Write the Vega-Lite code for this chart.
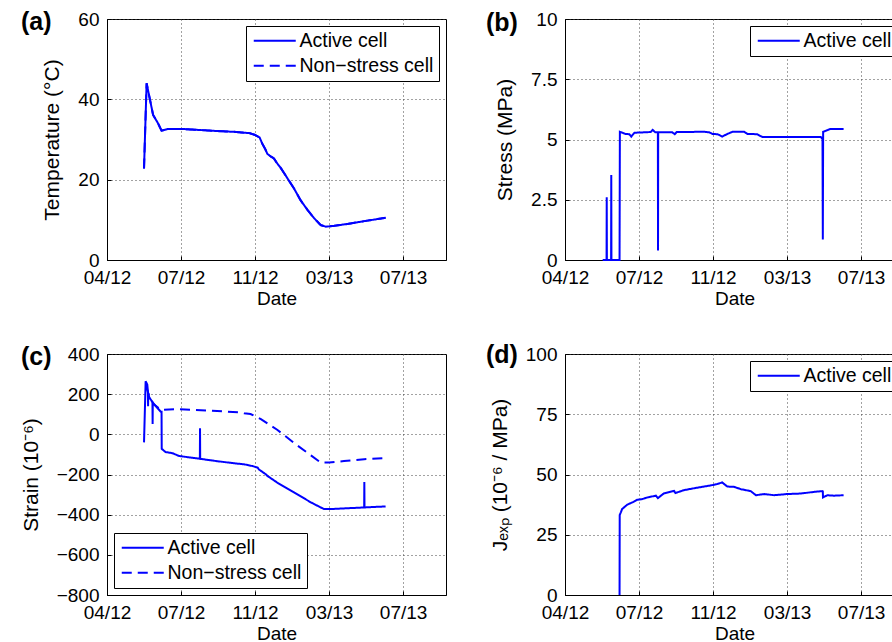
{
  "$schema": "https://vega.github.io/schema/vega-lite/v6.json",
  "padding": {"left": 19, "top": 9, "right": 0, "bottom": 0},
  "columns": 2,
  "spacing": {"row": 94, "column": 119},
  "bounds": "flush",
  "resolve": {"scale": {"strokeDash": "independent"}, "legend": {"strokeDash": "independent"}},
  "config": {
    "font": "Liberation Sans",
    "view": {"stroke": "black", "strokeWidth": 1},
    "axis": {
      "domainColor": "black", "domainWidth": 1,
      "labelColor": "black", "labelFontSize": 19, "labelPadding": 12,
      "labelFlush": false, "labelOverlap": false,
      "titleColor": "black", "titleFontSize": 19, "titleFontWeight": "normal",
      "ticks": true, "tickSize": -4, "tickColor": "black", "tickWidth": 1,
      "grid": true, "gridColor": "#444444", "gridDash": [1, 3], "gridWidth": 1, "gridOpacity": 1
    },
    "axisX": {"titlePadding": 2},
    "axisY": {"titlePadding": 15, "titleFontSize": 21},
    "legend": {
      "strokeColor": "black", "fillColor": "white", "padding": 5, "cornerRadius": 0,
      "labelFontSize": 19.5, "labelColor": "black", "labelLimit": 300,
      "symbolType": "M-3.5,0H3.5", "symbolSize": 144, "symbolStrokeWidth": 2,
      "symbolStrokeColor": "#0000ff", "symbolOffset": 14, "labelOffset": 15, "rowPadding": 4,
      "offset": 7
    },
    "title": {"fontSize": 25, "fontWeight": "bold", "color": "black", "anchor": "start", "frame": "group", "baseline": "middle", "offset": 0}
  },
  "datasets": {
    "temp": [
      {"date": "2012/05/28", "series": "Active cell", "value": 22.8},
      {"date": "2012/06/01", "series": "Active cell", "value": 44.0},
      {"date": "2012/06/11", "series": "Active cell", "value": 36.1},
      {"date": "2012/06/18", "series": "Active cell", "value": 34.2},
      {"date": "2012/06/24", "series": "Active cell", "value": 32.2},
      {"date": "2012/07/03", "series": "Active cell", "value": 32.6},
      {"date": "2012/07/29", "series": "Active cell", "value": 32.6},
      {"date": "2012/09/18", "series": "Active cell", "value": 32.1},
      {"date": "2012/10/14", "series": "Active cell", "value": 31.9},
      {"date": "2012/10/29", "series": "Active cell", "value": 31.7},
      {"date": "2012/11/06", "series": "Active cell", "value": 31.6},
      {"date": "2012/11/14", "series": "Active cell", "value": 31.2},
      {"date": "2012/11/22", "series": "Active cell", "value": 30.5},
      {"date": "2012/11/26", "series": "Active cell", "value": 29.0},
      {"date": "2012/12/01", "series": "Active cell", "value": 27.5},
      {"date": "2012/12/04", "series": "Active cell", "value": 26.4},
      {"date": "2012/12/09", "series": "Active cell", "value": 25.8},
      {"date": "2012/12/14", "series": "Active cell", "value": 25.3},
      {"date": "2012/12/18", "series": "Active cell", "value": 24.3},
      {"date": "2012/12/25", "series": "Active cell", "value": 22.8},
      {"date": "2013/01/04", "series": "Active cell", "value": 20.3},
      {"date": "2013/01/14", "series": "Active cell", "value": 17.8},
      {"date": "2013/01/24", "series": "Active cell", "value": 14.9},
      {"date": "2013/02/04", "series": "Active cell", "value": 12.4},
      {"date": "2013/02/14", "series": "Active cell", "value": 10.4},
      {"date": "2013/02/24", "series": "Active cell", "value": 8.7},
      {"date": "2013/03/04", "series": "Active cell", "value": 8.3},
      {"date": "2013/03/17", "series": "Active cell", "value": 8.5},
      {"date": "2013/04/11", "series": "Active cell", "value": 9.1},
      {"date": "2013/05/07", "series": "Active cell", "value": 9.8},
      {"date": "2013/06/04", "series": "Active cell", "value": 10.5},
      {"date": "2012/05/28", "series": "Non−stress cell", "value": 22.8},
      {"date": "2012/06/01", "series": "Non−stress cell", "value": 44.0},
      {"date": "2012/06/11", "series": "Non−stress cell", "value": 36.1},
      {"date": "2012/06/18", "series": "Non−stress cell", "value": 34.2},
      {"date": "2012/06/24", "series": "Non−stress cell", "value": 32.2},
      {"date": "2012/07/03", "series": "Non−stress cell", "value": 32.6},
      {"date": "2012/07/29", "series": "Non−stress cell", "value": 32.6},
      {"date": "2012/09/18", "series": "Non−stress cell", "value": 32.1},
      {"date": "2012/10/14", "series": "Non−stress cell", "value": 31.9},
      {"date": "2012/10/29", "series": "Non−stress cell", "value": 31.7},
      {"date": "2012/11/06", "series": "Non−stress cell", "value": 31.6},
      {"date": "2012/11/14", "series": "Non−stress cell", "value": 31.2},
      {"date": "2012/11/22", "series": "Non−stress cell", "value": 30.5},
      {"date": "2012/11/26", "series": "Non−stress cell", "value": 29.0},
      {"date": "2012/12/01", "series": "Non−stress cell", "value": 27.5},
      {"date": "2012/12/04", "series": "Non−stress cell", "value": 26.4},
      {"date": "2012/12/09", "series": "Non−stress cell", "value": 25.8},
      {"date": "2012/12/14", "series": "Non−stress cell", "value": 25.3},
      {"date": "2012/12/18", "series": "Non−stress cell", "value": 24.3},
      {"date": "2012/12/25", "series": "Non−stress cell", "value": 22.8},
      {"date": "2013/01/04", "series": "Non−stress cell", "value": 20.3},
      {"date": "2013/01/14", "series": "Non−stress cell", "value": 17.8},
      {"date": "2013/01/24", "series": "Non−stress cell", "value": 14.9},
      {"date": "2013/02/04", "series": "Non−stress cell", "value": 12.4},
      {"date": "2013/02/14", "series": "Non−stress cell", "value": 10.4},
      {"date": "2013/02/24", "series": "Non−stress cell", "value": 8.7},
      {"date": "2013/03/04", "series": "Non−stress cell", "value": 8.3},
      {"date": "2013/03/17", "series": "Non−stress cell", "value": 8.5},
      {"date": "2013/04/11", "series": "Non−stress cell", "value": 9.1},
      {"date": "2013/05/07", "series": "Non−stress cell", "value": 9.8},
      {"date": "2013/06/04", "series": "Non−stress cell", "value": 10.5}
    ],
    "stress": [
      {"date": "2012/05/29 00:00", "series": "Active cell", "value": 0},
      {"date": "2012/06/04 00:00", "series": "Active cell", "value": 0},
      {"date": "2012/06/04 06:00", "series": "Active cell", "value": 2.6},
      {"date": "2012/06/04 12:00", "series": "Active cell", "value": 0},
      {"date": "2012/06/11 00:00", "series": "Active cell", "value": 0},
      {"date": "2012/06/11 06:00", "series": "Active cell", "value": 3.53},
      {"date": "2012/06/11 12:00", "series": "Active cell", "value": 0},
      {"date": "2012/06/24 00:00", "series": "Active cell", "value": 0},
      {"date": "2012/06/24 12:00", "series": "Active cell", "value": 5.32},
      {"date": "2012/07/03 00:00", "series": "Active cell", "value": 5.23},
      {"date": "2012/07/09 00:00", "series": "Active cell", "value": 5.22},
      {"date": "2012/07/12 00:00", "series": "Active cell", "value": 5.12},
      {"date": "2012/07/17 00:00", "series": "Active cell", "value": 5.28},
      {"date": "2012/08/11 00:00", "series": "Active cell", "value": 5.31},
      {"date": "2012/08/14 00:00", "series": "Active cell", "value": 5.40},
      {"date": "2012/08/18 00:00", "series": "Active cell", "value": 5.30},
      {"date": "2012/08/22 00:00", "series": "Active cell", "value": 5.30},
      {"date": "2012/08/22 06:00", "series": "Active cell", "value": 0.39},
      {"date": "2012/08/22 12:00", "series": "Active cell", "value": 5.30},
      {"date": "2012/09/13 00:00", "series": "Active cell", "value": 5.30},
      {"date": "2012/09/17 00:00", "series": "Active cell", "value": 5.22},
      {"date": "2012/09/20 00:00", "series": "Active cell", "value": 5.31},
      {"date": "2012/11/01 00:00", "series": "Active cell", "value": 5.32},
      {"date": "2012/11/09 00:00", "series": "Active cell", "value": 5.30},
      {"date": "2012/11/14 00:00", "series": "Active cell", "value": 5.23},
      {"date": "2012/11/22 00:00", "series": "Active cell", "value": 5.22},
      {"date": "2012/11/29 00:00", "series": "Active cell", "value": 5.12},
      {"date": "2012/12/07 00:00", "series": "Active cell", "value": 5.23},
      {"date": "2012/12/15 00:00", "series": "Active cell", "value": 5.32},
      {"date": "2013/01/02 00:00", "series": "Active cell", "value": 5.32},
      {"date": "2013/01/07 00:00", "series": "Active cell", "value": 5.23},
      {"date": "2013/01/22 00:00", "series": "Active cell", "value": 5.22},
      {"date": "2013/01/30 00:00", "series": "Active cell", "value": 5.10},
      {"date": "2013/04/30 00:00", "series": "Active cell", "value": 5.10},
      {"date": "2013/05/02 12:00", "series": "Active cell", "value": 5.02},
      {"date": "2013/05/03 00:00", "series": "Active cell", "value": 0.85},
      {"date": "2013/05/03 12:00", "series": "Active cell", "value": 5.32},
      {"date": "2013/05/15 00:00", "series": "Active cell", "value": 5.44},
      {"date": "2013/06/04 00:00", "series": "Active cell", "value": 5.44}
    ],
    "strain": [
      {"date": "2012/05/28 00:00", "series": "Active cell", "value": -40},
      {"date": "2012/05/30 12:00", "series": "Active cell", "value": 264},
      {"date": "2012/06/02 00:00", "series": "Active cell", "value": 248},
      {"date": "2012/06/03 00:00", "series": "Active cell", "value": 215},
      {"date": "2012/06/03 06:00", "series": "Active cell", "value": 140},
      {"date": "2012/06/03 12:00", "series": "Active cell", "value": 205},
      {"date": "2012/06/05 00:00", "series": "Active cell", "value": 185},
      {"date": "2012/06/10 00:00", "series": "Active cell", "value": 160},
      {"date": "2012/06/10 06:00", "series": "Active cell", "value": 52},
      {"date": "2012/06/10 12:00", "series": "Active cell", "value": 157},
      {"date": "2012/06/23 00:00", "series": "Active cell", "value": 112},
      {"date": "2012/06/24 00:00", "series": "Active cell", "value": 112},
      {"date": "2012/06/24 06:00", "series": "Active cell", "value": -72},
      {"date": "2012/06/30 00:00", "series": "Active cell", "value": -88},
      {"date": "2012/07/11 00:00", "series": "Active cell", "value": -94},
      {"date": "2012/07/21 00:00", "series": "Active cell", "value": -108},
      {"date": "2012/08/21 00:00", "series": "Active cell", "value": -121},
      {"date": "2012/08/22 00:00", "series": "Active cell", "value": -121},
      {"date": "2012/08/22 06:00", "series": "Active cell", "value": 30},
      {"date": "2012/08/22 12:00", "series": "Active cell", "value": -122},
      {"date": "2012/09/16 00:00", "series": "Active cell", "value": -133},
      {"date": "2012/10/16 00:00", "series": "Active cell", "value": -145},
      {"date": "2012/10/29 00:00", "series": "Active cell", "value": -149},
      {"date": "2012/11/11 00:00", "series": "Active cell", "value": -158},
      {"date": "2012/11/19 00:00", "series": "Active cell", "value": -166},
      {"date": "2012/11/21 00:00", "series": "Active cell", "value": -175},
      {"date": "2012/12/02 00:00", "series": "Active cell", "value": -200},
      {"date": "2012/12/04 00:00", "series": "Active cell", "value": -207},
      {"date": "2012/12/19 00:00", "series": "Active cell", "value": -240},
      {"date": "2013/01/14 00:00", "series": "Active cell", "value": -289},
      {"date": "2013/02/09 00:00", "series": "Active cell", "value": -339},
      {"date": "2013/03/01 00:00", "series": "Active cell", "value": -372},
      {"date": "2013/03/12 00:00", "series": "Active cell", "value": -372},
      {"date": "2013/05/02 00:00", "series": "Active cell", "value": -364},
      {"date": "2013/05/02 06:00", "series": "Active cell", "value": -237},
      {"date": "2013/05/02 12:00", "series": "Active cell", "value": -364},
      {"date": "2013/06/04 00:00", "series": "Active cell", "value": -359},
      {"date": "2012/05/31 00:00", "series": "Non−stress cell", "value": 240},
      {"date": "2012/06/05 00:00", "series": "Non−stress cell", "value": 190},
      {"date": "2012/06/12 00:00", "series": "Non−stress cell", "value": 150},
      {"date": "2012/06/23 00:00", "series": "Non−stress cell", "value": 122},
      {"date": "2012/06/28 00:00", "series": "Non−stress cell", "value": 123},
      {"date": "2012/07/21 00:00", "series": "Non−stress cell", "value": 125},
      {"date": "2012/09/10 00:00", "series": "Non−stress cell", "value": 117},
      {"date": "2012/10/21 00:00", "series": "Non−stress cell", "value": 110},
      {"date": "2012/10/29 00:00", "series": "Non−stress cell", "value": 105},
      {"date": "2012/11/08 00:00", "series": "Non−stress cell", "value": 101},
      {"date": "2012/11/24 00:00", "series": "Non−stress cell", "value": 76},
      {"date": "2012/12/19 00:00", "series": "Non−stress cell", "value": 23},
      {"date": "2013/01/14 00:00", "series": "Non−stress cell", "value": -43},
      {"date": "2013/02/09 00:00", "series": "Non−stress cell", "value": -105},
      {"date": "2013/02/24 00:00", "series": "Non−stress cell", "value": -140},
      {"date": "2013/03/09 00:00", "series": "Non−stress cell", "value": -140},
      {"date": "2013/04/01 00:00", "series": "Non−stress cell", "value": -133},
      {"date": "2013/05/02 00:00", "series": "Non−stress cell", "value": -124},
      {"date": "2013/06/04 00:00", "series": "Non−stress cell", "value": -118}
    ],
    "jexp": [
      {"date": "2012/06/24 00:00", "series": "Active cell", "value": 0},
      {"date": "2012/06/24 06:00", "series": "Active cell", "value": 33.2},
      {"date": "2012/06/26 00:00", "series": "Active cell", "value": 34.3},
      {"date": "2012/06/28 00:00", "series": "Active cell", "value": 35.7},
      {"date": "2012/07/06 00:00", "series": "Active cell", "value": 37.5},
      {"date": "2012/07/16 00:00", "series": "Active cell", "value": 38.7},
      {"date": "2012/07/21 00:00", "series": "Active cell", "value": 39.5},
      {"date": "2012/07/29 00:00", "series": "Active cell", "value": 39.8},
      {"date": "2012/08/06 00:00", "series": "Active cell", "value": 40.5},
      {"date": "2012/08/19 00:00", "series": "Active cell", "value": 41.2},
      {"date": "2012/08/22 00:00", "series": "Active cell", "value": 40.2},
      {"date": "2012/08/31 00:00", "series": "Active cell", "value": 42.1},
      {"date": "2012/09/16 00:00", "series": "Active cell", "value": 43.2},
      {"date": "2012/09/18 00:00", "series": "Active cell", "value": 42.3},
      {"date": "2012/10/01 00:00", "series": "Active cell", "value": 43.5},
      {"date": "2012/10/17 00:00", "series": "Active cell", "value": 44.3},
      {"date": "2012/11/01 00:00", "series": "Active cell", "value": 45.0},
      {"date": "2012/11/14 00:00", "series": "Active cell", "value": 45.6},
      {"date": "2012/11/21 00:00", "series": "Active cell", "value": 46.0},
      {"date": "2012/11/29 00:00", "series": "Active cell", "value": 46.7},
      {"date": "2012/12/07 00:00", "series": "Active cell", "value": 45.0},
      {"date": "2012/12/17 00:00", "series": "Active cell", "value": 44.9},
      {"date": "2012/12/28 00:00", "series": "Active cell", "value": 43.9},
      {"date": "2013/01/12 00:00", "series": "Active cell", "value": 43.1},
      {"date": "2013/01/20 00:00", "series": "Active cell", "value": 41.4},
      {"date": "2013/02/02 00:00", "series": "Active cell", "value": 41.9},
      {"date": "2013/02/17 00:00", "series": "Active cell", "value": 41.4},
      {"date": "2013/03/09 00:00", "series": "Active cell", "value": 41.9},
      {"date": "2013/03/30 00:00", "series": "Active cell", "value": 42.1},
      {"date": "2013/04/20 00:00", "series": "Active cell", "value": 42.8},
      {"date": "2013/05/02 00:00", "series": "Active cell", "value": 43.1},
      {"date": "2013/05/03 00:00", "series": "Active cell", "value": 43.0},
      {"date": "2013/05/03 06:00", "series": "Active cell", "value": 40.5},
      {"date": "2013/05/10 00:00", "series": "Active cell", "value": 41.4},
      {"date": "2013/05/20 00:00", "series": "Active cell", "value": 41.2},
      {"date": "2013/06/04 00:00", "series": "Active cell", "value": 41.4}
    ]
  },
  "concat": [
    {
      "width": 339, "height": 241,
      "title": {"text": "(a)", "dx": -86, "dy": 29},
      "data": {"name": "temp"},
      "mark": {"type": "line", "strokeWidth": 2, "color": "#0000ff"},
      "encoding": {
        "x": {"field": "date", "type": "temporal", "title": "Date",
          "scale": {"domain": [{"year": 2012, "month": 4, "date": 1}, {"year": 2013, "month": 9, "date": 5}]},
          "axis": {"format": "%m/%y", "values": [{"year": 2012, "month": 4, "date": 1}, {"year": 2012, "month": 7, "date": 24}, {"year": 2012, "month": 11, "date": 15}, {"year": 2013, "month": 3, "date": 9}, {"year": 2013, "month": 7, "date": 1}]}},
        "y": {"field": "value", "type": "quantitative", "title": "Temperature (°C)",
          "scale": {"domain": [0, 60], "nice": false, "zero": false},
          "axis": {"values": [0, 20, 40, 60], "format": ".1~f"}},
        "strokeDash": {"field": "series", "type": "nominal", "title": null,
          "scale": {"domain": ["Active cell", "Non−stress cell"], "range": [[1, 0], [10, 6]]},
          "legend": {"orient": "top-right"}}
      }
    },
    {
      "width": 339, "height": 241,
      "title": {"text": "(b)", "dx": -79, "dy": 30},
      "data": {"name": "stress"},
      "mark": {"type": "line", "strokeWidth": 2, "color": "#0000ff"},
      "encoding": {
        "x": {"field": "date", "type": "temporal", "title": "Date",
          "scale": {"domain": [{"year": 2012, "month": 4, "date": 1}, {"year": 2013, "month": 9, "date": 5}]},
          "axis": {"format": "%m/%y", "values": [{"year": 2012, "month": 4, "date": 1}, {"year": 2012, "month": 7, "date": 24}, {"year": 2012, "month": 11, "date": 15}, {"year": 2013, "month": 3, "date": 9}, {"year": 2013, "month": 7, "date": 1}]}},
        "y": {"field": "value", "type": "quantitative", "title": "Stress (MPa)",
          "scale": {"domain": [0, 10], "nice": false, "zero": false},
          "axis": {"values": [0, 2.5, 5, 7.5, 10], "format": ".1~f"}},
        "strokeDash": {"field": "series", "type": "nominal", "title": null,
          "scale": {"domain": ["Active cell"], "range": [[1, 0]]},
          "legend": {"orient": "top-right"}}
      }
    },
    {
      "width": 339, "height": 241,
      "title": {"text": "(c)", "dx": -86, "dy": 29},
      "data": {"name": "strain"},
      "mark": {"type": "line", "strokeWidth": 2, "color": "#0000ff"},
      "encoding": {
        "x": {"field": "date", "type": "temporal", "title": "Date",
          "scale": {"domain": [{"year": 2012, "month": 4, "date": 1}, {"year": 2013, "month": 9, "date": 5}]},
          "axis": {"format": "%m/%y", "values": [{"year": 2012, "month": 4, "date": 1}, {"year": 2012, "month": 7, "date": 24}, {"year": 2012, "month": 11, "date": 15}, {"year": 2013, "month": 3, "date": 9}, {"year": 2013, "month": 7, "date": 1}]}},
        "y": {"field": "value", "type": "quantitative", "title": "Strain (10⁻⁶)",
          "scale": {"domain": [-800, 400], "nice": false, "zero": false},
          "axis": {"values": [-800, -600, -400, -200, 0, 200, 400], "format": ".1~f"}},
        "strokeDash": {"field": "series", "type": "nominal", "title": null,
          "scale": {"domain": ["Active cell", "Non−stress cell"], "range": [[1, 0], [10, 6]]},
          "legend": {"orient": "bottom-left"}}
      }
    },
    {
      "width": 339, "height": 241,
      "title": {"text": "(d)", "dx": -79, "dy": 27},
      "data": {"name": "jexp"},
      "mark": {"type": "line", "strokeWidth": 2, "color": "#0000ff"},
      "encoding": {
        "x": {"field": "date", "type": "temporal", "title": "Date",
          "scale": {"domain": [{"year": 2012, "month": 4, "date": 1}, {"year": 2013, "month": 9, "date": 5}]},
          "axis": {"format": "%m/%y", "values": [{"year": 2012, "month": 4, "date": 1}, {"year": 2012, "month": 7, "date": 24}, {"year": 2012, "month": 11, "date": 15}, {"year": 2013, "month": 3, "date": 9}, {"year": 2013, "month": 7, "date": 1}]}},
        "y": {"field": "value", "type": "quantitative", "title": "Jₑₓₚ (10⁻⁶ / MPa)",
          "scale": {"domain": [0, 100], "nice": false, "zero": false},
          "axis": {"values": [0, 25, 50, 75, 100], "format": ".1~f"}},
        "strokeDash": {"field": "series", "type": "nominal", "title": null,
          "scale": {"domain": ["Active cell"], "range": [[1, 0]]},
          "legend": {"orient": "top-right"}}
      }
    }
  ]
}
